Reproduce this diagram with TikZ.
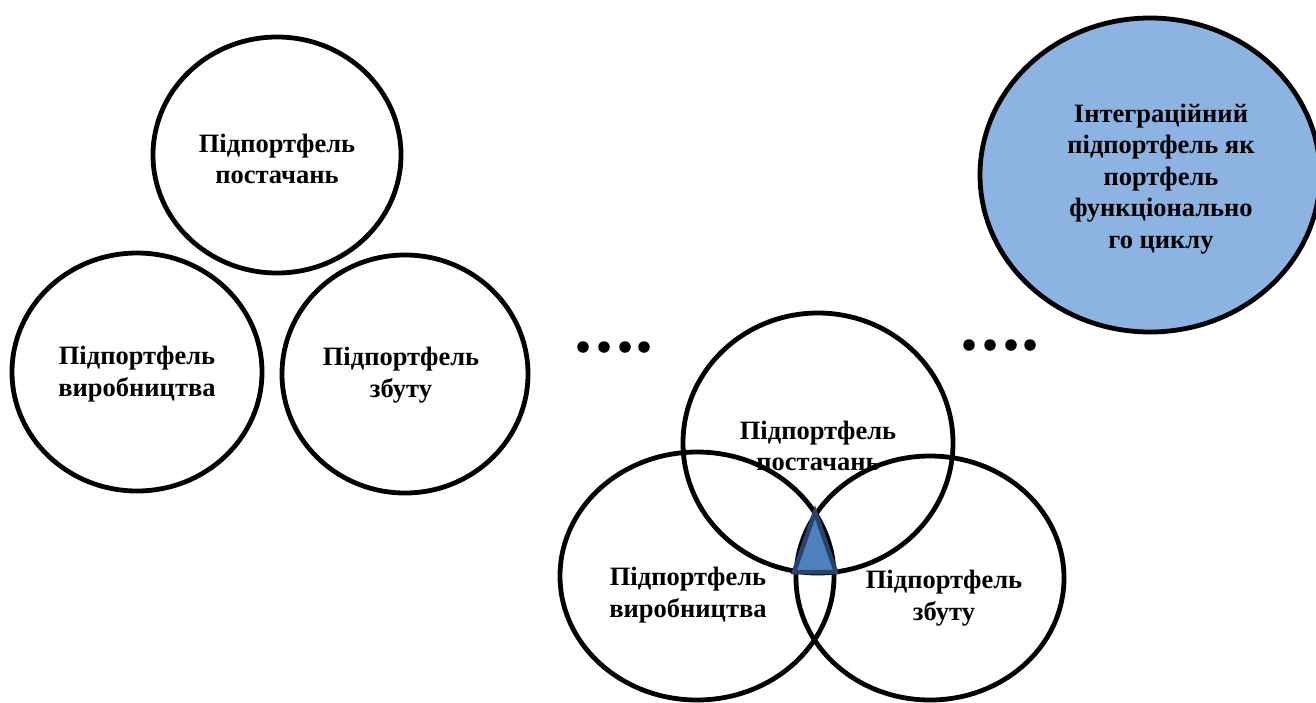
\documentclass[tikz,border=0pt]{standalone}
\usepackage{fontspec}
\setmainfont{Liberation Serif}
\usetikzlibrary{shapes.geometric}
\definecolor{blueFill}{RGB}{141,179,226}
\definecolor{triFill}{RGB}{79,129,189}
\definecolor{triLine}{RGB}{40,68,110}
\tikzset{
  circ/.style={ellipse, draw=black, line width=4.8pt, inner sep=0pt, outer sep=0pt},
  lbl/.style={align=center, font=\fontsize{26.5}{31.5}\selectfont\bfseries, inner sep=0pt},
  dot/.style={circle, fill=black, inner sep=0pt, minimum size=11.5pt}
}
\begin{document}
\begin{tikzpicture}[x=1pt,y=-1pt]
\clip (0,0) rectangle (1316,702);
\fill[white] (0,0) rectangle (1316,702);
% left group
\node[circ, minimum width=248pt, minimum height=236pt] (c1) at (277,155) {};
\node[lbl] (t1) at (277,159) {Підпортфель\\постачань};
\node[circ, minimum width=250pt, minimum height=238pt] (c2) at (137,372) {};
\node[lbl] (t2) at (137,374) {Підпортфель\\виробництва};
\node[circ, minimum width=246pt, minimum height=238pt] (c3) at (405,374) {};
\node[lbl] (t3) at (401,375) {Підпортфель\\збуту};
% dots
\node[dot] (d1) at (583,347) {};
\node[dot] (d2) at (604,347) {};
\node[dot] (d3) at (625,347) {};
\node[dot] (d4) at (644,347) {};
\node[dot] (e1) at (969,345) {};
\node[dot] (e2) at (990,345) {};
\node[dot] (e3) at (1011,345) {};
\node[dot] (e4) at (1030,345) {};
% blue
\node[circ, fill=blueFill, minimum width=340pt, minimum height=314pt] (c4) at (1150,175) {};
\node[lbl] (t4) at (1161,179) {Інтеграційний\\підпортфель як\\портфель\\функціонально\\го циклу};
% venn
\node[lbl] (t5) at (818,446) {Підпортфель\\постачань};
\node[circ, minimum width=270pt, minimum height=260pt] (v1) at (818,443) {};
\node[lbl] (t6) at (688,595) {Підпортфель\\виробництва};
\node[circ, minimum width=274pt, minimum height=248pt] (v2) at (697,576) {};
\node[lbl] (t7) at (944,598) {Підпортфель\\збуту};
\node[circ, minimum width=268pt, minimum height=244pt] (v3) at (930,578) {};
% triangle
\coordinate (ta) at (815,512);
\coordinate (tb) at (794,572);
\coordinate (tc) at (836,572);
\draw[fill=triFill, draw=triLine, line width=4.5pt, line join=miter] (ta) -- (tb) -- (tc) -- cycle;
\end{tikzpicture}
\end{document}
